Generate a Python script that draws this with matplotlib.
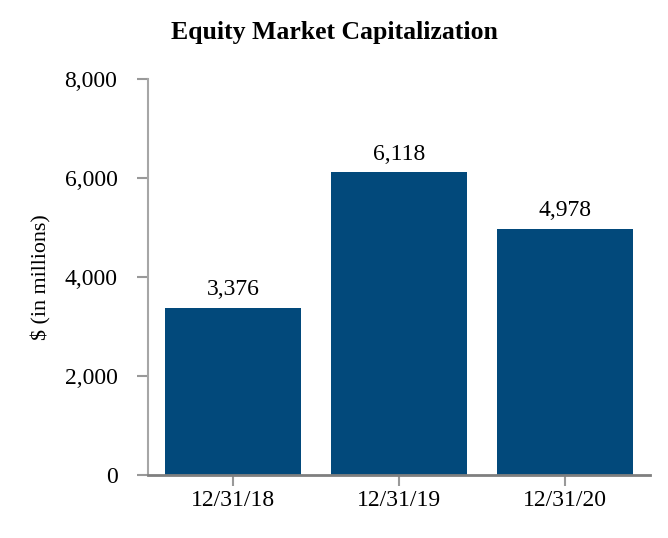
import matplotlib
matplotlib.use("Agg")
import matplotlib.pyplot as plt
from matplotlib.ticker import FuncFormatter

dates = ["12/31/18", "12/31/19", "12/31/20"]
market_cap = [3376, 6118, 4978]
y_ticks = [0, 2000, 4000, 6000, 8000]

plt.rcParams['font.family'] = ['Liberation Serif', 'DejaVu Serif']

fig = plt.figure(figsize=(6.68, 5.38), dpi=100)
ax = fig.add_axes([0.2216, 0.1171, 0.973 - 0.2216, 0.8532 - 0.1171])

x = range(len(dates))
ax.bar(x, market_cap, width=0.82, color="#02497b")
for xi, v in zip(x, market_cap):
    ax.text(xi, v + 150, f"{v:,}", ha="center", va="bottom", fontsize=17)

ax.set_xlim(-0.512, 2.512)
ax.set_ylim(0, 8000)
ax.set_yticks(y_ticks)
ax.yaxis.set_major_formatter(FuncFormatter(lambda v, p: f"{int(v):,}"))
ax.set_xticks(list(x))
ax.set_xticklabels(dates)
ax.tick_params(axis="both", labelsize=17, length=8, width=1.5, colors="#999999", labelcolor="black")
ax.tick_params(axis="y", pad=14)
ax.tick_params(axis="x", pad=3)

for s in ["top", "right"]:
    ax.spines[s].set_visible(False)
ax.spines["left"].set_color("#a6a6a6")
ax.spines["left"].set_linewidth(1.5)
ax.spines["bottom"].set_color("#7f7f7f")
ax.spines["bottom"].set_linewidth(2)

ax.set_ylabel("$ (in millions)", fontsize=15.8)
ax.yaxis.set_label_coords(-(148 - 51) / (650 - 148), 0.5)

fig.text(0.5, 1 - 32 / 538, "Equity Market Capitalization", ha="center", va="center",
         fontsize=18.5, fontweight="bold")

fig.savefig("out.png", dpi=100)
